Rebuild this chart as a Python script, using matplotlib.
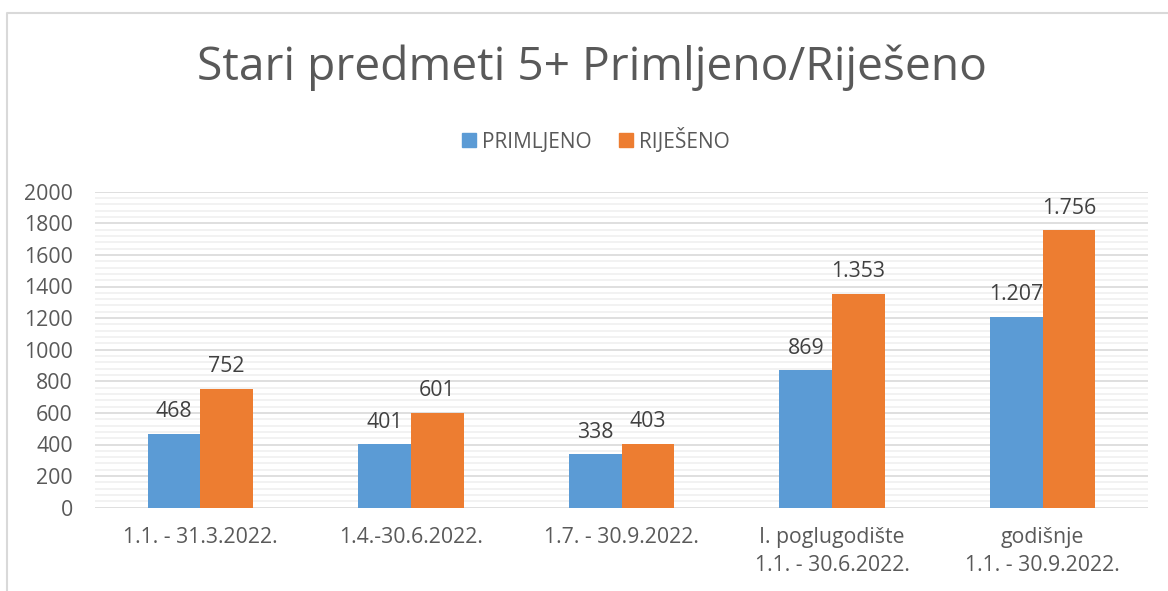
import matplotlib
matplotlib.use("Agg")
import matplotlib.pyplot as plt
import numpy as np
from matplotlib.lines import Line2D

categories = ["1.1. - 31.3.2022.", "1.4.-30.6.2022.", "1.7. - 30.9.2022.",
              "I. poglugodište\n1.1. - 30.6.2022.", "godišnje\n1.1. - 30.9.2022."]
primljeno = [468, 401, 338, 869, 1207]
rijeseno = [752, 601, 403, 1353, 1756]
series_names = ["PRIMLJENO", "RIJEŠENO"]
title = "Stari predmeti 5+ Primljeno/Riješeno"

BLUE = "#5b9bd5"
ORANGE = "#ed7d31"
TXT = "#595959"

plt.rcParams['font.family'] = ['Open Sans', 'DejaVu Sans']

fig = plt.figure(figsize=(11.68, 5.91), dpi=100)
ax = fig.add_axes([95/1168, 1-507.7/591, (1148-95)/1168, (507.7-191.7)/591])

x = np.arange(len(categories))
w = 0.25
b1 = ax.bar(x - w/2, primljeno, w, color=BLUE, zorder=3, label=series_names[0])
b2 = ax.bar(x + w/2, rijeseno, w, color=ORANGE, zorder=3, label=series_names[1])

def fmt(v):
    return f"{v:,}".replace(",", ".")

for bars, vals in ((b1, primljeno), (b2, rijeseno)):
    for r, v in zip(bars, vals):
        ax.annotate(fmt(v), (r.get_x() + r.get_width()/2, v), xytext=(0, 12),
                    textcoords="offset points", ha="center", va="baseline",
                    fontsize=15.3, color="#404040", zorder=4)

ax.set_xlim(-0.5, len(categories) - 0.5)
ax.set_ylim(0, 2000)
ax.set_yticks(np.arange(0, 2001, 200))
ax.set_yticks(np.arange(0, 2001, 40), minor=True)
ax.grid(axis="y", which="major", color="#d9d9d9", linewidth=1.2, zorder=1)
ax.grid(axis="y", which="minor", color="#f0f0f0", linewidth=1.2, zorder=0)
ax.set_xticks(x)
ax.set_xticklabels(categories)
for s in ax.spines.values():
    s.set_visible(False)
ax.tick_params(axis="both", which="both", length=0)
ax.tick_params(axis="y", labelsize=15.3, labelcolor=TXT, pad=16)
ax.tick_params(axis="x", labelsize=15.3, labelcolor=TXT, pad=14)
for t in ax.get_xticklabels():
    t.set_linespacing(1.45)
    t.set_multialignment("center")

fig.text(0.5065, 1-68/591, title, ha="center", va="center", fontsize=33.2,
         color=TXT)

handles = [plt.Rectangle((0, 0), 1, 1, color=BLUE), plt.Rectangle((0, 0), 1, 1, color=ORANGE)]
fig.legend(handles, series_names, loc="center", bbox_to_anchor=(596/1168, 1-140/591),
           ncol=2, frameon=False, fontsize=15, labelcolor=TXT, handlelength=0.68,
           handleheight=0.68, handletextpad=0.3, columnspacing=1.3)

border = Line2D([6.5/1168, 6.5/1168, 1.0], [0, 1-12.5/591, 1-12.5/591],
                transform=fig.transFigure, color="#d9d9d9", linewidth=1.5)
fig.add_artist(border)

fig.savefig("out.png", dpi=100, facecolor="white")
